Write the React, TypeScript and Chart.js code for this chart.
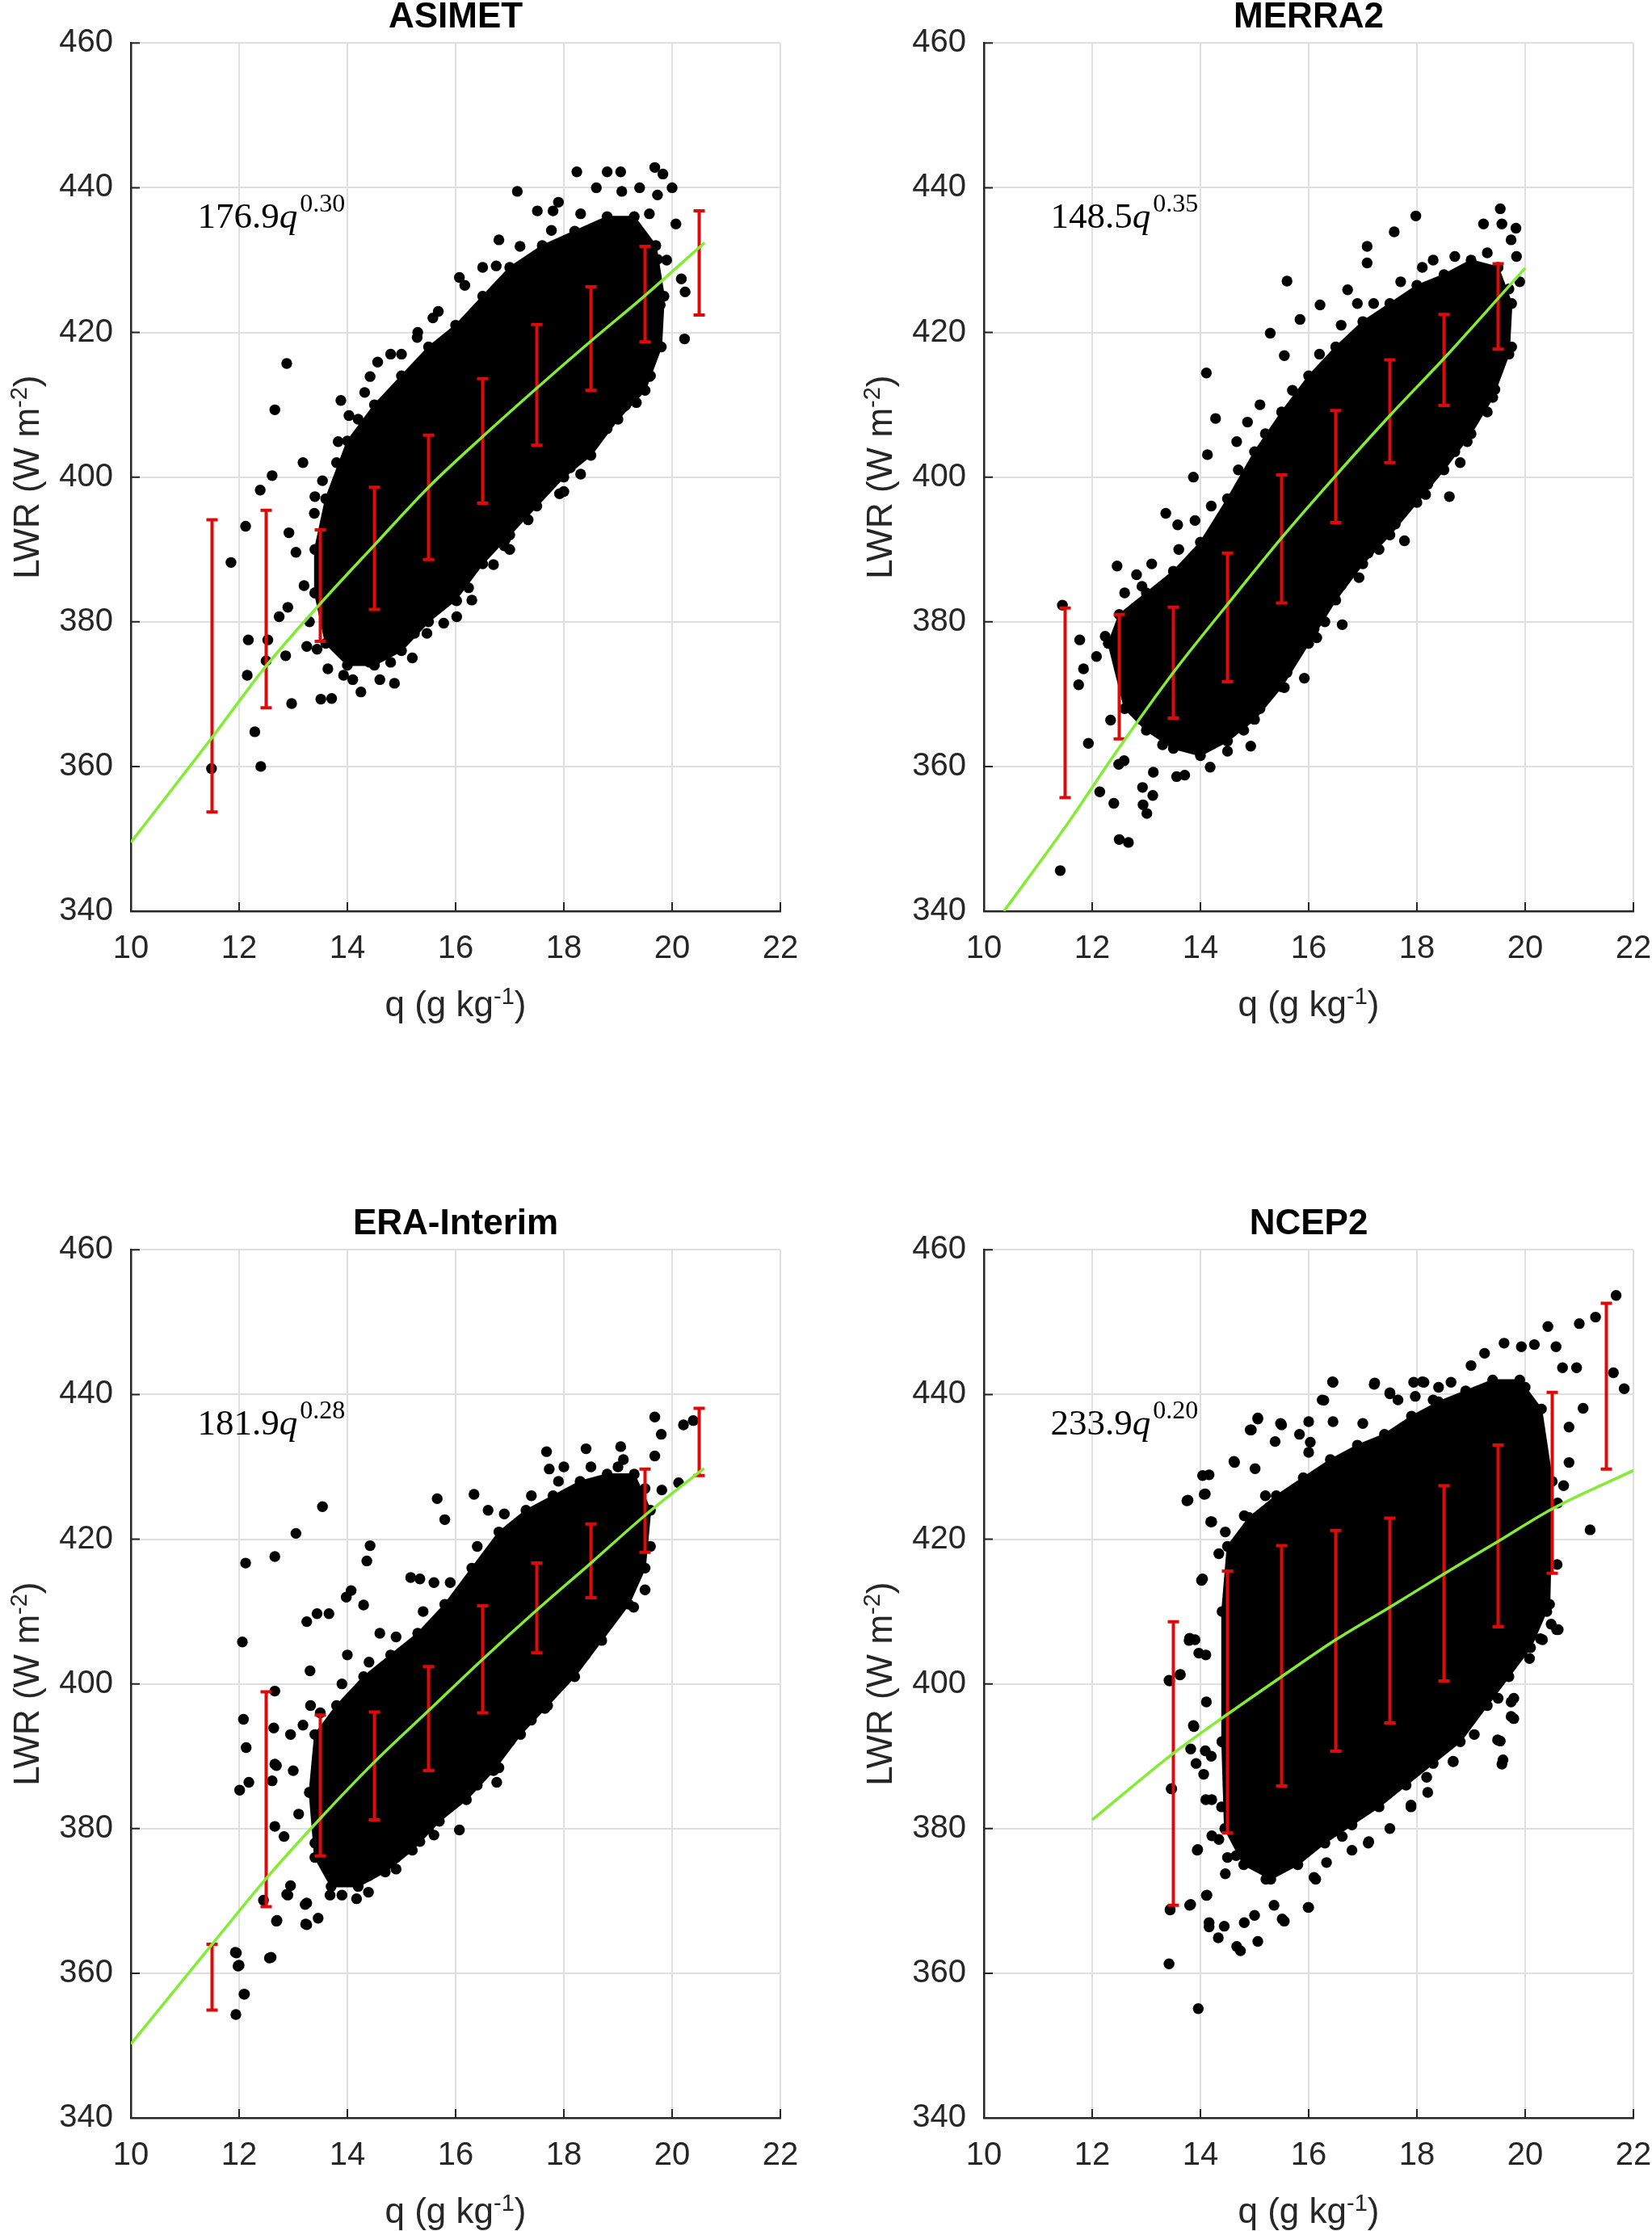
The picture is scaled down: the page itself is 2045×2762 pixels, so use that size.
import React, { useEffect, useRef } from 'react';
import { Chart, registerables } from 'chart.js';

Chart.register(...registerables);

type P = [number, number];

// ---------------- shared axis values ----------------
const X_MIN = 10;
const X_MAX = 22;
const X_STEP = 2;
const Y_MIN = 340;
const Y_MAX = 460;
const Y_STEP = 20;
const X_TITLE = ['q (g kg', '-1', ')'];
const Y_TITLE = ['LWR (W m', '-2', ')'];
const FORMULA_AT: P = [11.23, 434.5];

// ---------------- ASIMET ----------------
const ASIMET_CLOUD: P[] = [
  [13.4, 384], [13.6, 377], [14.0, 374], [14.5, 374], [15.0, 376], [15.5, 380], [16.0, 383], [16.5, 388],
  [17.0, 392], [17.5, 396], [18.0, 400], [18.5, 403], [19.0, 408], [19.5, 412], [19.8, 418], [19.85, 425],
  [19.7, 432], [19.3, 436], [18.8, 436], [18.2, 434], [17.6, 432], [17.0, 429], [16.5, 425], [16.0, 421],
  [15.5, 418], [15.0, 414], [14.5, 410], [14.0, 405], [13.6, 397], [13.4, 390],
];
const ASIMET_PTS: P[] = [
  [11.49, 359.7], [11.85, 388.2], [12.12, 393.2], [12.17, 377.5], [12.15, 372.6], [12.29, 364.8], [12.4, 360.0],
  [12.39, 398.2], [12.61, 400.2], [12.66, 409.3], [12.88, 415.7], [13.18, 402.0], [12.92, 392.3], [12.74, 380.7],
  [12.86, 375.3], [12.97, 368.7], [12.9, 382], [13.05, 389.6], [12.53, 377.5], [12.5, 374.6], [13.25, 376.6],
  [13.4, 397.3], [13.8, 402], [13.88, 410.6], [14.32, 411.7], [14.56, 415.9], [14.87, 371.5], [14.6, 372],
  [13.71, 369.4], [13.51, 369.3], [14.25, 370.3], [15.47, 378.4], [16.02, 380.7], [16.24, 384.7], [16.92, 391.4],
  [17.1, 394.8], [18.31, 400.4], [18.9, 408.5], [19.34, 410.3], [20.23, 419.1], [20.17, 427.4], [20.24, 425.6],
  [20.07, 435], [20.0, 440], [19.73, 439], [19.68, 442.8], [19.83, 441.9], [19.05, 442.2], [18.8, 442.2],
  [18.24, 442.2], [19.07, 439.5], [19.4, 440], [18.6, 440], [17.14, 439.5], [17.51, 436.8], [17.8, 436.8],
  [16.8, 432.8], [16.07, 427.6], [15.58, 422], [15.0, 417], [13.3, 380], [13.2, 385], [14.2, 408], [15.3, 420],
  [16.5, 429], [17.9, 438], [19.9, 430], [19.6, 414], [18.0, 398], [17.0, 390], [16.3, 383], [15.2, 375], [14.1, 372],
  [13.44, 376.2], [13.64, 373.5], [13.93, 372.6], [14.41, 374.4], [14.8, 374.4], [15.24, 378.4], [15.78, 379.8],
  [16.02, 382.9], [16.7, 387.9], [16.9, 390.5], [17.34, 394.1], [17.92, 397.7], [18.12, 401.3], [18.8, 406.7],
  [19.14, 409.9], [19.58, 413.9], [19.78, 423.8], [19.73, 430.1], [19.58, 436.4], [18.31, 436.4], [17.77, 434.1],
  [17.19, 431.9], [16.75, 429.2], [16.17, 426.5], [15.68, 422.9], [15.29, 419.3], [14.8, 417], [14.42, 413.9],
  [14.03, 408.5], [13.83, 404.9], [13.54, 399.5], [13.39, 395.0],
];
const ASIMET_BIN_Q = [11.5, 12.5, 13.5, 14.5, 15.5, 16.5, 17.5, 18.5, 19.5, 20.5];
const ASIMET_BIN_LO = [353.7, 368.1, 377.3, 381.7, 388.6, 396.4, 404.4, 412.0, 418.7, 422.4];
const ASIMET_BIN_HI = [394.1, 395.4, 392.7, 398.6, 405.8, 413.6, 421.1, 426.3, 431.9, 436.8];
const ASIMET_FIT: P[] = [
  [10, 349.5], [11.5, 364.0], [12.5, 373.9], [13.5, 382.5], [14.5, 390.6], [15.5, 398.6], [16.5, 405.6],
  [17.5, 412.3], [18.5, 418.8], [19.5, 425.1], [20.6, 432.4],
];

// ---------------- MERRA2 ----------------
const MERRA2_CLOUD: P[] = [
  [12.3, 377], [12.6, 368], [13.0, 365], [13.5, 362.5], [14.0, 361.5], [14.5, 363.5], [15.0, 366.5], [15.5, 371],
  [16.0, 377], [16.5, 383], [17.0, 388], [17.5, 392], [18.0, 396.5], [18.5, 401], [19.0, 406], [19.4, 411],
  [19.7, 417], [19.75, 424], [19.5, 429], [19.0, 430], [18.5, 428], [18.0, 426.5], [17.5, 424], [17.0, 421.5],
  [16.5, 418], [16.0, 414], [15.5, 409], [15.0, 403.5], [14.5, 397], [14.0, 391], [13.5, 387], [13.0, 384], [12.5, 381],
];
const MERRA2_PTS: P[] = [
  [11.41, 345.6], [11.45, 382.3], [11.77, 377.5], [11.84, 373.5], [11.75, 371.3], [11.93, 363.2], [12.14, 356.5],
  [12.4, 354.9], [12.5, 349.9], [12.67, 349.5], [12.93, 357.1], [13.12, 356.0], [12.94, 354.7], [13.01, 353.5],
  [13.13, 359.2], [13.56, 358.6], [13.71, 358.8], [14.18, 359.9], [14.5, 362.1], [14.93, 362.8], [15.55, 370.9],
  [15.92, 372.2], [12.34, 366.4], [12.49, 360.3], [12.59, 360.8], [12.08, 375.2], [12.24, 378], [12.46, 387.7],
  [12.82, 386.5], [12.92, 384.9], [13.36, 395], [13.58, 393.4], [13.87, 400], [14.11, 414.4], [14.28, 408.1],
  [14.13, 403.1], [14.67, 404.9], [14.87, 407.6], [15.29, 419.9], [15.6, 427.1], [15.55, 416.8], [15.84, 421.8],
  [16.21, 423.8], [16.72, 425.9], [17.08, 431.9], [17.08, 429.6], [17.58, 433.9], [17.98, 436.1], [19.23, 435],
  [19.54, 437.1], [19.57, 435], [19.74, 432.8], [19.83, 434.4], [19.84, 430.5], [19.44, 412.1], [18.93, 404.9],
  [18.6, 397.3], [18.16, 397.6], [17.77, 391.2], [16.93, 386.1], [16.62, 379.6], [16.15, 377.8], [19.9, 427],
  [19.6, 420], [18.3, 430], [16.9, 424], [15.1, 410], [13.9, 394], [12.8, 382], [13.3, 363], [14.8, 365],
  [16.3, 380], [17.3, 390], [18.8, 402], [12.6, 384], [13.1, 388], [13.6, 390], [14.2, 396], [14.7, 401],
  [15.2, 406], [15.7, 412], [16.2, 417], [16.6, 421], [17.2, 424], [17.7, 427], [18.1, 429], [18.7, 430.5],
  [19.3, 431], [19.7, 426], [19.75, 418], [19.3, 409], [18.7, 403.5], [18.2, 399], [17.6, 393.5], [17.1, 389.5],
  [16.6, 385], [16.1, 379], [15.6, 373], [15.1, 368], [14.6, 365], [14.0, 363], [13.4, 364], [12.9, 366.5],
];
const MERRA2_BIN_Q = [11.5, 12.5, 13.5, 14.5, 15.5, 16.5, 17.5, 18.5, 19.5];
const MERRA2_BIN_LO = [355.7, 363.8, 366.7, 371.7, 382.6, 393.7, 402.0, 409.9, 417.7];
const MERRA2_BIN_HI = [381.9, 381.0, 382.0, 389.5, 400.3, 409.2, 416.2, 422.5, 429.5];
const MERRA2_FIT: P[] = [
  [10.37, 340], [11.5, 351.6], [12.5, 362.6], [13.5, 373.0], [14.5, 382.4], [15.5, 391.6], [16.5, 400.2],
  [17.5, 408.5], [18.5, 416.4], [19.5, 424.7], [20, 428.9],
];

// ---------------- ERA-Interim ----------------
const ERA_CLOUD: P[] = [
  [13.3, 385], [13.4, 376], [13.7, 372], [14.2, 372], [14.7, 374], [15.2, 377], [15.7, 381], [16.2, 384],
  [16.7, 388], [17.2, 393], [17.7, 397], [18.2, 401], [18.7, 406], [19.2, 411], [19.5, 416], [19.6, 424],
  [19.3, 429], [18.8, 429], [18.3, 428], [17.8, 426], [17.3, 424], [16.8, 421], [16.3, 416], [15.8, 411],
  [15.3, 407], [14.8, 404], [14.3, 401], [13.8, 397], [13.4, 393],
];
const ERA_PTS: P[] = [
  [11.94, 354.3], [11.95, 362.8], [12.0, 361.1], [12.1, 357.1], [12.01, 385.3], [12.08, 395.1], [12.13, 391.2],
  [12.18, 386.4], [12.06, 405.8], [12.12, 416.7], [12.66, 417.6], [13.05, 420.8], [13.54, 424.5], [12.59, 362.2],
  [12.7, 367.3], [12.66, 388.9], [12.64, 393.9], [12.66, 399], [12.66, 380.3], [12.83, 378.9], [12.9, 370.8],
  [12.95, 372.1], [13.25, 366.7], [13.46, 367.6], [13.25, 369.7], [13.68, 370.8], [13.9, 370.8], [14.17, 370.3],
  [14.39, 371.2], [14.9, 374.4], [15.34, 378.2], [15.6, 379.1], [16.07, 379.8], [16.76, 386.4], [16.8, 388.4],
  [17.65, 396.6], [17.95, 400.2], [18.34, 403.6], [18.7, 409.3], [19.29, 410.6], [19.81, 426.8], [20.12, 427.8],
  [20.21, 435.8], [20.39, 436.4], [19.68, 436.9], [19.8, 434.5], [19.68, 431.5], [19.05, 432.8], [18.41, 432.5],
  [17.68, 432.1], [17.73, 429.7], [16.34, 426.2], [15.66, 425.6], [15.8, 422.7], [15.17, 414.7], [15.34, 414.5],
  [14.42, 419.1], [14.36, 417], [14.07, 412.9], [13.98, 412], [14.3, 410.9], [13.44, 409.7], [13.66, 409.7],
  [13.25, 408.6], [13.31, 401.8], [13.32, 397], [13.18, 394.3], [12.95, 393], [12.69, 388.7], [12.61, 386.6],
  [12.45, 370.1], [12.69, 367.2], [13.23, 366.8], [12.56, 362.1], [11.93, 362.9], [11.98, 361], [12.09, 357.1],
  [12.88, 370.9], [13.22, 369.5], [13.1, 382], [13.0, 388], [14.0, 404], [14.6, 407], [15.6, 414], [16.6, 424],
  [18.0, 430], [19.0, 430], [19.5, 413], [18.4, 404], [17.4, 395], [16.4, 386], [15.5, 380], [13.5, 396],
  [13.9, 400], [14.4, 403], [14.9, 406.5], [15.4, 410], [15.9, 414], [16.4, 419], [16.9, 423.5], [17.4, 426],
  [17.9, 428], [18.5, 430], [19.1, 431], [19.5, 427], [19.6, 419], [19.2, 413], [18.7, 407.5], [18.1, 402],
  [17.6, 398.5], [17.0, 392], [16.5, 388], [16.0, 384], [15.4, 380], [14.9, 376], [14.4, 373.5], [13.8, 373],
  [13.4, 378],
];
const ERA_BIN_Q = [11.5, 12.5, 13.5, 14.5, 15.5, 16.5, 17.5, 18.5, 19.5, 20.5];
const ERA_BIN_LO = [354.9, 369.2, 376.2, 381.2, 388.0, 396.0, 404.3, 411.9, 418.2, 428.8];
const ERA_BIN_HI = [364.0, 398.9, 395.7, 396.1, 402.4, 410.8, 416.7, 422.1, 429.7, 438.1];
const ERA_FIT: P[] = [
  [10, 350.2], [11.5, 364.0], [12.5, 373.1], [13.5, 381.4], [14.5, 389.2], [15.5, 396.3], [16.5, 403.4],
  [17.5, 410.2], [18.5, 416.7], [19.5, 423.3], [20.59, 429.8],
];

// ---------------- NCEP2 ----------------
const NCEP2_CLOUD: P[] = [
  [14.4, 392], [14.45, 380], [14.8, 375], [15.3, 373], [15.8, 375], [16.3, 378], [16.8, 380.5], [17.3, 383],
  [17.8, 386], [18.3, 389], [18.8, 392], [19.3, 397], [19.7, 401], [20.1, 405], [20.45, 411], [20.5, 428],
  [20.3, 438], [19.9, 442], [19.4, 442], [18.9, 440.5], [18.4, 439], [17.9, 437], [17.4, 434.5], [16.9, 433],
  [16.4, 431], [15.9, 428.5], [15.4, 426], [14.9, 423], [14.5, 419], [14.4, 410],
];
const NCEP2_PTS: P[] = [
  [13.43, 400.4], [13.46, 385.5], [13.44, 368.8], [13.42, 361.3], [13.96, 355.1], [13.63, 401.3], [13.8, 406.3],
  [13.75, 425.3], [13.9, 406.1], [13.88, 394.1], [13.95, 377.1], [13.8, 369.4], [14.12, 370.8], [14.16, 366.4],
  [14.33, 364.9], [14.67, 363.7], [14.74, 363.1], [15.06, 364.4], [15.36, 369.4], [15.55, 367.2], [15.99, 369.1],
  [14.04, 428.8], [14.07, 426.2], [14.19, 422.4], [14.02, 414.3], [14.63, 430.6], [14.92, 435.1], [15.06, 436.6],
  [15.5, 435.8], [16.28, 439.2], [16.45, 441.7], [17.21, 441.4], [17.5, 440.1], [17.94, 441.7], [18.13, 441.7],
  [18.63, 441.7], [19.25, 445.7], [19.61, 447.1], [19.93, 446.6], [20.17, 446.9], [20.42, 449.4], [20.57, 446.6],
  [20.69, 443.7], [20.95, 443.7], [21.0, 449.8], [21.3, 450.7], [21.68, 453.7], [21.63, 443], [21.83, 440.8],
  [21.07, 438.1], [20.81, 435.5], [20.81, 430.6], [20.71, 427.4], [20.59, 416.5], [20.61, 407.5], [21.2, 421.3],
  [20.32, 406.1], [19.88, 404.9], [19.79, 403.6], [19.74, 397.5], [19.79, 395.2], [19.54, 392.1], [19.57, 388.9],
  [19.06, 393], [18.67, 389.3], [17.89, 383], [18.18, 387.1], [17.11, 378.2], [16.62, 378.9], [16.13, 373],
  [16.33, 375.3], [16.44, 441.75], [17.22, 441.6], [16.25, 439.25], [17.5, 440.25], [17.65, 439.25],
  [17.97, 439.75], [18.1, 441.75], [18.3, 439.25], [15.06, 436.75], [14.94, 435.1], [15.48, 436], [16.0, 436.25],
  [16.45, 436.25], [15.83, 434.5], [15.38, 433.5], [16.03, 433.4], [14.62, 430.75], [14.16, 428.9], [15.01, 429.75],
  [14.09, 426.25], [13.77, 425.4], [14.21, 422.4], [14.46, 421], [14.81, 423.25], [14.34, 418], [14.04, 414.5],
  [13.79, 406], [13.97, 404.25], [13.62, 401.25], [13.42, 400.5], [14.11, 397.5], [13.87, 394.25], [13.82, 391],
  [14.09, 390.75], [13.92, 389], [14.06, 387.5], [13.47, 385.5], [14.21, 384], [14.39, 383], [14.21, 379],
  [13.94, 377], [14.34, 378.5], [14.76, 379.5], [14.66, 376.25], [14.46, 373.75], [14.11, 370.75], [13.82, 369.5],
  [13.44, 368.75], [14.16, 367], [14.44, 366.5], [14.81, 367], [15.51, 367.5], [16.0, 369.1], [15.21, 373],
  [16.1, 373.25], [17.1, 378], [17.89, 383.25], [18.67, 389.25], [19.59, 389.5], [19.49, 392.25], [19.74, 395.5],
  [19.79, 398], [19.39, 398.75], [20.08, 403.5], [19.93, 404.75], [19.74, 402.5], [20.28, 406.25], [20.58, 407.5],
  [20.48, 408.25], [14.1, 404], [14.2, 390], [14.1, 384], [14.5, 376], [15.0, 368], [16.8, 377], [15.2, 426],
  [16.0, 432], [17.0, 436], [18.4, 441], [19.0, 444], [20.0, 441], [20.6, 425], [20.4, 410], [19.5, 398],
  [18.2, 385], [17.5, 380],
];
const NCEP2_BIN_Q = [13.5, 14.5, 15.5, 16.5, 17.5, 18.5, 19.5, 20.5, 21.5];
const NCEP2_BIN_LO = [369.4, 379.4, 385.9, 390.7, 394.6, 400.4, 407.9, 415.3, 429.7];
const NCEP2_BIN_HI = [408.6, 415.6, 419.1, 421.2, 422.9, 427.4, 433.0, 440.3, 452.6];
const NCEP2_FIT: P[] = [
  [12, 381.2], [13.5, 390.4], [14.5, 395.8], [15.5, 401.0], [16.5, 406.1], [17.5, 410.6], [18.5, 415.2],
  [19.5, 419.7], [20.5, 424.2], [22, 429.5],
];

interface PanelCfg {
  title: string;
  coef: string;
  expo: string;
  cloud: P[];
  pts: P[];
  binQ: number[];
  binLo: number[];
  binHi: number[];
  fit: P[];
}

const PANELS: PanelCfg[] = [
  { title: 'ASIMET', coef: '176.9', expo: '0.30', cloud: ASIMET_CLOUD, pts: ASIMET_PTS, binQ: ASIMET_BIN_Q, binLo: ASIMET_BIN_LO, binHi: ASIMET_BIN_HI, fit: ASIMET_FIT },
  { title: 'MERRA2', coef: '148.5', expo: '0.35', cloud: MERRA2_CLOUD, pts: MERRA2_PTS, binQ: MERRA2_BIN_Q, binLo: MERRA2_BIN_LO, binHi: MERRA2_BIN_HI, fit: MERRA2_FIT },
  { title: 'ERA-Interim', coef: '181.9', expo: '0.28', cloud: ERA_CLOUD, pts: ERA_PTS, binQ: ERA_BIN_Q, binLo: ERA_BIN_LO, binHi: ERA_BIN_HI, fit: ERA_FIT },
  { title: 'NCEP2', coef: '233.9', expo: '0.20', cloud: NCEP2_CLOUD, pts: NCEP2_PTS, binQ: NCEP2_BIN_Q, binLo: NCEP2_BIN_LO, binHi: NCEP2_BIN_HI, fit: NCEP2_FIT },
];

// ---------------- styles ----------------
const SANS = "'Liberation Sans', Arial, Helvetica, sans-serif";
const SERIF = "'Liberation Serif', 'DejaVu Serif', 'Times New Roman', serif";
const AXIS_COLOR = '#262626';
const GRID_COLOR = '#dfdfdf';
const RED = '#dd0a0a';
const GREEN = '#84ec34';
const DOT_R = 6.7;
const CANVAS_W = 989;
const CANVAS_H = 1268;

type Run = { t: string; font: string; dy: number; gap?: number };

function drawRuns(ctx: CanvasRenderingContext2D, runs: Run[], x: number, y: number, center: boolean) {
  let total = 0;
  const widths = runs.map((r) => {
    ctx.font = r.font;
    const w = ctx.measureText(r.t).width + (r.gap || 0);
    total += w;
    return w;
  });
  let cx = center ? x - total / 2 : x;
  runs.forEach((r, i) => {
    ctx.font = r.font;
    ctx.fillText(r.t, cx + (r.gap || 0), y + r.dy);
    cx += widths[i];
  });
}

function Panel({ cfg, left, top }: { cfg: PanelCfg; left: number; top: number }) {
  const ref = useRef<HTMLCanvasElement>(null);

  useEffect(() => {
    const canvas = ref.current;
    if (!canvas) return;
    const xy = (arr: P[]) => arr.map(([x, y]) => ({ x, y }));
    const errLines: any[] = [];
    const caps: any[] = [];
    cfg.binQ.forEach((q, i) => {
      errLines.push({ x: q, y: cfg.binLo[i] }, { x: q, y: cfg.binHi[i] }, { x: q, y: null });
      caps.push({ x: q, y: cfg.binLo[i] }, { x: q, y: cfg.binHi[i] });
    });
    const cloud = xy([...cfg.cloud, cfg.cloud[0]]);

    const decor = {
      id: 'decor',
      afterDatasetsDraw(chart: any) {
        const { ctx, chartArea: a, scales } = chart;
        const xs = scales.x;
        const ys = scales.y;
        ctx.save();
        ctx.strokeStyle = AXIS_COLOR;
        ctx.lineWidth = 2;
        ctx.beginPath();
        xs.ticks.forEach((t: any) => {
          const px = xs.getPixelForValue(t.value);
          ctx.moveTo(px, a.bottom);
          ctx.lineTo(px, a.bottom - 11);
        });
        ys.ticks.forEach((t: any) => {
          const py = ys.getPixelForValue(t.value);
          ctx.moveTo(a.left, py);
          ctx.lineTo(a.left + 11, py);
        });
        ctx.stroke();
        ctx.restore();
      },
      afterDraw(chart: any) {
        const { ctx, chartArea: a, scales } = chart;
        ctx.save();
        ctx.fillStyle = AXIS_COLOR;
        ctx.textBaseline = 'alphabetic';
        ctx.textAlign = 'left';
        const big = `44px ${SANS}`;
        const sup = `29px ${SANS}`;
        drawRuns(
          ctx,
          [
            { t: X_TITLE[0], font: big, dy: 0 },
            { t: X_TITLE[1], font: sup, dy: -15 },
            { t: X_TITLE[2], font: big, dy: 0 },
          ],
          (a.left + a.right) / 2,
          a.bottom + 130,
          true
        );
        ctx.save();
        ctx.translate(48, (a.top + a.bottom) / 2);
        ctx.rotate(-Math.PI / 2);
        drawRuns(
          ctx,
          [
            { t: Y_TITLE[0], font: big, dy: 0 },
            { t: Y_TITLE[1], font: sup, dy: -15 },
            { t: Y_TITLE[2], font: big, dy: 0 },
          ],
          0,
          0,
          true
        );
        ctx.restore();
        ctx.fillStyle = '#000';
        drawRuns(
          ctx,
          [
            { t: cfg.coef, font: `45px ${SERIF}`, dy: 0 },
            { t: 'q', font: `italic 45px ${SERIF}`, dy: 0 },
            { t: cfg.expo, font: `32px ${SERIF}`, dy: -20, gap: 3 },
          ],
          scales.x.getPixelForValue(FORMULA_AT[0]),
          scales.y.getPixelForValue(FORMULA_AT[1]),
          false
        );
        ctx.restore();
      },
    };

    const chart = new Chart(canvas, {
      type: 'scatter',
      data: {
        datasets: [
          {
            type: 'line',
            data: xy(cfg.fit),
            borderColor: GREEN,
            borderWidth: 3.5,
            pointRadius: 0,
            cubicInterpolationMode: 'monotone',
            fill: false,
          } as any,
          {
            type: 'line',
            data: errLines,
            borderColor: RED,
            borderWidth: 4,
            pointRadius: 0,
            spanGaps: false,
            fill: false,
          } as any,
          {
            type: 'scatter',
            data: caps,
            pointStyle: 'line',
            pointRadius: 7,
            pointBorderWidth: 4,
            pointBorderColor: RED,
            pointBackgroundColor: RED,
          } as any,
          {
            type: 'scatter',
            data: xy(cfg.pts),
            pointRadius: DOT_R,
            pointBorderWidth: 0,
            pointBackgroundColor: '#000',
            pointBorderColor: '#000',
          } as any,
          {
            type: 'line',
            data: cloud,
            borderColor: '#000',
            backgroundColor: '#000',
            borderWidth: 2,
            pointRadius: DOT_R,
            pointBorderWidth: 0,
            pointBackgroundColor: '#000',
            fill: 'shape',
            tension: 0,
          } as any,
        ],
      },
      options: {
        responsive: false,
        animation: false,
        devicePixelRatio: 1,
        events: [],
        layout: { padding: { top: 0, right: 23, bottom: 0, left: 0 } },
        plugins: {
          legend: { display: false },
          tooltip: { enabled: false },
          title: {
            display: true,
            text: cfg.title,
            color: '#000',
            fullSize: false,
            font: { family: SANS, size: 44, weight: 'bold', lineHeight: 1 },
            padding: { top: 0, bottom: 9.3 },
          },
        },
        scales: {
          x: {
            type: 'linear',
            min: X_MIN,
            max: X_MAX,
            ticks: {
              stepSize: X_STEP,
              color: AXIS_COLOR,
              font: { family: SANS, size: 40 },
              padding: 23,
              maxRotation: 0,
              autoSkip: false,
            },
            grid: { color: GRID_COLOR, lineWidth: 2, drawTicks: false },
            border: { color: AXIS_COLOR, width: 2.5 },
            afterFit: (s: any) => {
              s.height = 140;
              s.paddingLeft = 0;
              s.paddingRight = 0;
            },
          },
          y: {
            type: 'linear',
            min: Y_MIN,
            max: Y_MAX,
            ticks: {
              stepSize: Y_STEP,
              color: AXIS_COLOR,
              font: { family: SANS, size: 40 },
              padding: 22,
              autoSkip: false,
            },
            grid: { color: GRID_COLOR, lineWidth: 2, drawTicks: false },
            border: { color: AXIS_COLOR, width: 2.5 },
            afterFit: (s: any) => {
              s.width = 162;
              s.paddingTop = 0;
              s.paddingBottom = 0;
            },
          },
        },
      } as any,
      plugins: [decor],
    });

    return () => chart.destroy();
  }, [cfg]);

  return (
    <canvas
      ref={ref}
      width={CANVAS_W}
      height={CANVAS_H}
      style={{ position: 'absolute', left, top, width: CANVAS_W, height: CANVAS_H, display: 'block' }}
    />
  );
}

export default function App() {
  return (
    <div
      style={{
        position: 'absolute',
        left: 0,
        top: 0,
        width: 2045,
        height: 2762,
        background: '#fff',
        overflow: 'hidden',
      }}
    >
      {PANELS.map((p, i) => (
        <Panel key={p.title} cfg={p} left={i % 2 === 1 ? 1056 : 0} top={i < 2 ? 0 : 1494} />
      ))}
    </div>
  );
}
